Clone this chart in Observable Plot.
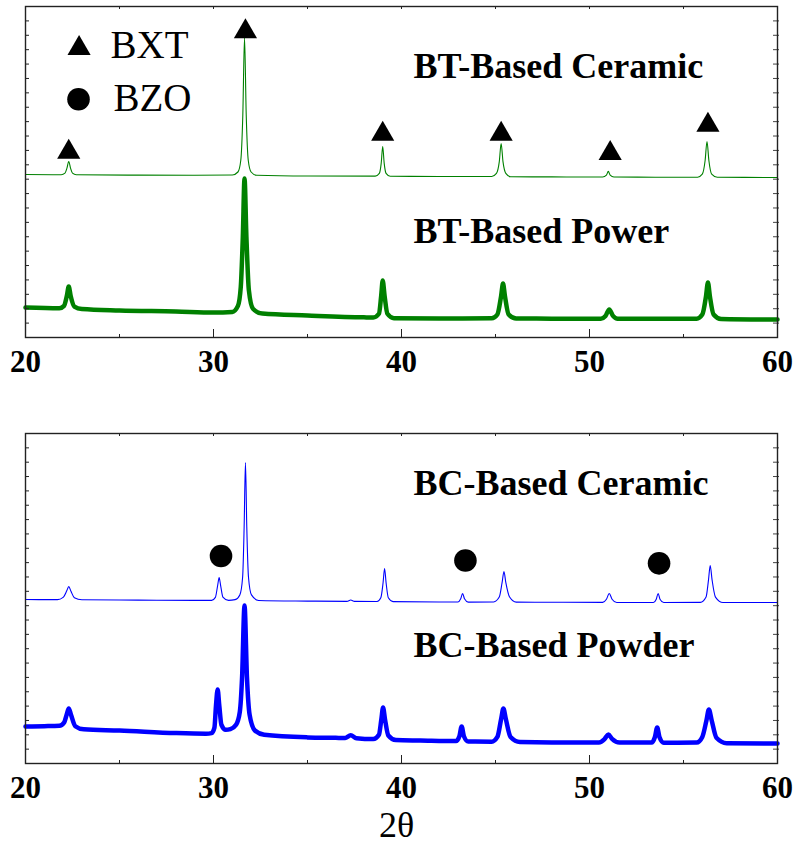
<!DOCTYPE html>
<html><head><meta charset="utf-8">
<script src="https://cdn.jsdelivr.net/npm/d3@7"></script>
<script src="https://cdn.jsdelivr.net/npm/@observablehq/plot@0.6"></script>
<style>body{margin:0;background:#fff} svg{display:block}</style>
</head><body><div id="chart"></div>
<script>
// ---- data (2θ in degrees, intensity in arbitrary units, offset per pattern) ----
const xTicks = [20, 30, 40, 50, 60];
const xMinorBottom = [25, 35, 45, 55];
const xMinorTop = [25, 30, 35, 40, 45, 50, 55];
const yMinor = [1,2,3,4,5,6,7,8,9,10,11,12,13,14,15,16,17,18,19,20,21,22];

const btCeramic = [
 [20,11.33],
 [21.9,11.31],[22.1,11.42],[22.2,11.75],[22.3,12.23],[22.4,11.75],[22.5,11.42],[22.7,11.31],
 [26,11.28],[29,11.27],
 [31.0,11.29],[31.3,11.5],[31.45,12.3],[31.56,15.5],[31.65,20.85],[31.74,15.5],[31.85,12.3],[32.0,11.5],[32.3,11.27],
 [35,11.22],
 [38.6,11.21],[38.82,11.4],[38.92,12.1],[39.0,13.27],[39.08,12.1],[39.18,11.4],[39.4,11.2],
 [42,11.19],
 [44.8,11.19],[45.05,11.4],[45.2,12.2],[45.3,13.48],[45.4,12.2],[45.55,11.4],[45.8,11.17],
 [48,11.16],
 [50.7,11.15],[50.9,11.28],[51.0,11.54],[51.1,11.28],[51.3,11.15],
 [53.5,11.14],
 [55.75,11.14],[56.0,11.35],[56.15,12.3],[56.25,13.62],[56.35,12.3],[56.5,11.35],[56.8,11.13],
 [60,11.12]
];
const btPowder = [
 [20,2.08],[21.8,2.03],[22.05,2.2],[22.2,2.9],[22.3,3.54],[22.4,2.9],[22.6,2.15],[23.0,1.98],
 [25,1.88],[28,1.81],[30,1.74],
 [31.0,1.78],[31.3,2.2],[31.45,3.5],[31.56,7.0],[31.65,11.05],[31.75,7.0],[31.88,3.3],[32.1,2.0],[32.6,1.66],
 [35,1.53],[38,1.4],
 [38.5,1.39],[38.8,1.65],[38.92,2.9],[39.0,3.96],[39.1,2.9],[39.25,1.65],[39.6,1.34],
 [42,1.32],
 [44.8,1.33],[45.1,1.6],[45.3,2.9],[45.4,3.75],[45.5,2.9],[45.7,1.6],[46.1,1.32],
 [48,1.31],
 [50.6,1.31],[50.85,1.5],[51.05,1.95],[51.25,1.5],[51.5,1.3],
 [54,1.3],
 [55.7,1.31],[56.0,1.6],[56.2,2.9],[56.3,3.82],[56.4,2.9],[56.6,1.6],[57.0,1.29],
 [60,1.25]
];
const bcCeramic = [
 [20,11.43],
 [21.7,11.42],[22.0,11.58],[22.2,12.05],[22.3,12.33],[22.42,12.0],[22.6,11.55],[23.0,11.41],
 [26,11.39],[29,11.37],
 [29.9,11.37],[30.1,11.58],[30.22,12.4],[30.3,12.96],[30.38,12.4],[30.5,11.6],[30.8,11.37],
 [31.15,11.42],[31.4,11.75],[31.55,13.0],[31.63,16.5],[31.7,20.98],[31.77,16.5],[31.86,13.0],[32.02,11.75],[32.4,11.36],
 [35,11.32],
 [37.1,11.3],[37.3,11.4],[37.5,11.3],
 [38.7,11.29],[38.9,11.55],[39.02,12.6],[39.1,13.59],[39.18,12.6],[39.3,11.55],[39.55,11.28],
 [42,11.26],
 [43.0,11.26],[43.15,11.48],[43.25,11.85],[43.35,11.48],[43.55,11.25],
 [44.9,11.26],[45.2,11.6],[45.35,12.6],[45.45,13.38],[45.55,12.6],[45.75,11.6],[46.1,11.25],
 [48,11.24],
 [50.7,11.23],[50.9,11.45],[51.05,11.85],[51.2,11.45],[51.45,11.22],
 [53.4,11.22],[53.55,11.45],[53.65,11.85],[53.75,11.45],[53.95,11.22],
 [55.9,11.23],[56.2,11.6],[56.33,12.8],[56.42,13.8],[56.52,12.8],[56.7,11.6],[57.1,11.22],
 [60,11.22]
];
const bcPowder = [
 [20,2.58],[21.0,2.6],[21.8,2.63],[22.05,2.85],[22.2,3.45],[22.3,3.83],[22.42,3.4],[22.65,2.6],[23.1,2.38],
 [25,2.3],[28,2.12],[29.6,2.08],
 [29.9,2.12],[30.05,2.5],[30.13,4.0],[30.22,5.16],[30.31,4.0],[30.42,2.7],[30.65,2.35],[30.9,2.4],
 [31.2,2.7],[31.4,3.6],[31.52,6.0],[31.65,11.01],[31.78,6.0],[31.92,3.4],[32.2,2.3],[32.7,2.0],
 [35,1.82],[36.5,1.79],
 [37.0,1.78],[37.3,1.97],[37.6,1.76],
 [38.5,1.7],[38.8,2.0],[38.93,3.1],[39.02,3.9],[39.12,3.1],[39.3,1.95],[39.7,1.63],
 [41,1.6],
 [42.9,1.56],[43.08,1.9],[43.2,2.58],[43.32,1.9],[43.55,1.53],
 [44.8,1.52],[45.1,1.85],[45.3,3.1],[45.42,3.83],[45.55,3.1],[45.8,1.85],[46.3,1.5],
 [48,1.47],
 [50.5,1.47],[50.8,1.7],[51.0,2.02],[51.2,1.72],[51.6,1.46],
 [53.3,1.46],[53.48,1.85],[53.6,2.51],[53.72,1.85],[53.95,1.45],
 [55.7,1.46],[56.0,1.85],[56.22,3.0],[56.35,3.76],[56.5,3.0],[56.75,1.8],[57.3,1.42],
 [60,1.39]
];
const bxtMarkers = [[22.3,12.88],[31.7,21.26],[39.0,14.13],[45.3,14.13],[51.1,12.79],[56.3,14.76]];
const bzoMarkers = [[30.4,14.46],[43.4,14.15],[53.7,13.95]];
const legendTriangle = [{label:"BXT", mx:22.85, my:20.09, tx:24.52, ty:19.39}];
const legendCircle = [{label:"BZO", mx:22.82, my:16.56, tx:24.68, ty:15.77}];
const topLabels = [{text:"BT-Based Ceramic", x:40.64, y:18.0},{text:"BT-Based Power", x:40.64, y:6.6}];
const bottomLabels = [{text:"BC-Based Ceramic", x:40.64, y:18.68},{text:"BC-Based Powder", x:40.64, y:7.39}];
const xLabel = "2θ";

// ---- drawing ----
const W = 795, ML = 25, MR = 18;
const serif = "'Liberation Serif','Times New Roman',serif";

function panel({height, marginTop, marginBottom, ceramic, powder, color, labels, extra}) {
  const ph = height - marginTop - marginBottom;
  const pw = W - ML - MR;
  return Plot.plot({
    width: W, height, marginTop, marginBottom, marginLeft: ML, marginRight: MR,
    style: {fontFamily: serif, background: "white", overflow: "visible"},
    x: {domain: [20, 60], axis: null},
    y: {domain: [0, 23], axis: null},
    marks: [
      Plot.line(powder, {x: d => d[0], y: d => d[1], stroke: color, strokeWidth: 4.5, curve: "monotone-x"}),
      Plot.line(ceramic, {x: d => d[0], y: d => d[1], stroke: color, strokeWidth: 1.1, curve: "monotone-x"}),
      Plot.text(labels, {x: "x", y: "y", text: "text", textAnchor: "start", lineAnchor: "bottom",
        fontSize: 36, fontWeight: "bold", fill: "black"}),
      ...extra,
      Plot.tickX(xTicks, {x: d => d, insetTop: ph - 8, stroke: "#222"}),
      Plot.tickX(xMinorBottom, {x: d => d, insetTop: ph - 3, stroke: "#222"}),
      Plot.tickX(xMinorTop, {x: d => d, insetBottom: ph - 3, stroke: "#222"}),
      Plot.tickY(yMinor, {y: d => d, insetRight: pw - 4, stroke: "#222"}),
      Plot.tickY(yMinor, {y: d => d, insetLeft: pw - 4, insetRight: -2, stroke: "#444"}),
      Plot.frame({stroke: "#222", strokeWidth: 1.4}),
      Plot.axisX({ticks: xTicks, anchor: "bottom", tickSize: 0, tickPadding: 12, fontSize: 31,
        fontWeight: "bold", label: null, tickFormat: d => String(d)})
    ]
  });
}

const topExtra = [
  Plot.dot(bxtMarkers, {x: d => d[0], y: d => d[1], symbol: "triangle", r: 8.6, fill: "black", stroke: "none"}),
  Plot.dot(legendTriangle, {x: "mx", y: "my", symbol: "triangle", r: 8.6, fill: "black", stroke: "none"}),
  Plot.dot(legendCircle, {x: "mx", y: "my", symbol: "circle", r: 11.3, fill: "black", stroke: "none"}),
  Plot.text([...legendTriangle, ...legendCircle], {x: "tx", y: "ty", text: "label", textAnchor: "start", lineAnchor: "bottom", fontSize: 39, fill: "black"})
];
const bottomExtra = [
  Plot.dot(bzoMarkers, {x: d => d[0], y: d => d[1], r: 11.3, fill: "black", stroke: "none"}),
  Plot.text([xLabel], {text: d => d, frameAnchor: "bottom", dy: 73, dx: -5, lineAnchor: "bottom", fontSize: 36, fill: "black"})
];

const topPanel = panel({height: 385, marginTop: 6, marginBottom: 48, ceramic: btCeramic, powder: btPowder,
  color: "#008000", labels: topLabels, extra: topExtra});
const bottomPanel = panel({height: 459, marginTop: 48, marginBottom: 81, ceramic: bcCeramic, powder: bcPowder,
  color: "#0000ff", labels: bottomLabels, extra: bottomExtra});
document.getElementById("chart").append(topPanel, bottomPanel);
</script>
</body></html>
